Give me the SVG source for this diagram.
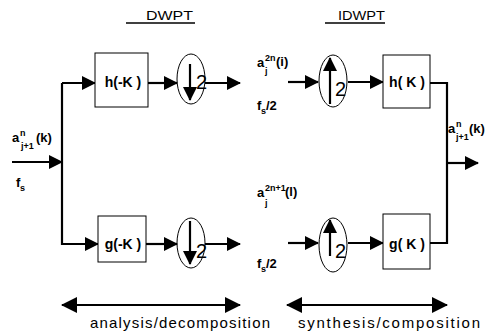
<svg xmlns="http://www.w3.org/2000/svg" width="490" height="334" viewBox="0 0 490 334">
<defs>
<style>
.w{stroke:#000;stroke-width:2.2;fill:none}
.bx{stroke:#000;stroke-width:1;fill:#fff}
.el{stroke:#000;stroke-width:1;fill:none}
text{font-family:"Liberation Sans",Arial,sans-serif;fill:#000}
.lb{font-size:14px;font-weight:bold}
.t{font-size:13px;font-weight:bold}
.s{font-size:9px;font-weight:bold}
.two{font-size:20px}
.cap{font-size:15px}
.hd{font-size:12.5px}
</style>
<marker id="ah" markerUnits="userSpaceOnUse" markerWidth="14" markerHeight="14" viewBox="0 0 14 14" refX="13" refY="7" orient="auto"><path d="M0,0 L14,7 L0,14 Z" fill="#000"/></marker>
<marker id="ah2" markerUnits="userSpaceOnUse" markerWidth="16" markerHeight="16" viewBox="0 0 16 16" refX="15" refY="8" orient="auto-start-reverse"><path d="M0,0 L16,8 L0,16 Z" fill="#000"/></marker>
</defs>
<g id="headers">
<text class="hd" x="146" y="20" textLength="47" lengthAdjust="spacingAndGlyphs">DWPT</text>
<line x1="126" y1="23" x2="195" y2="23" stroke="#000" stroke-width="1.5"/>
<text class="hd" x="338" y="20" textLength="47" lengthAdjust="spacingAndGlyphs">IDWPT</text>
<line x1="325" y1="23" x2="385" y2="23" stroke="#000" stroke-width="1.5"/>
</g>
<g id="connectors">
<line class="w" x1="12" y1="162" x2="62" y2="162" marker-end="url(#ah)"/>
<polyline class="w" points="62,245 62,83"/>
<polyline class="w" points="62,83 95,83" marker-end="url(#ah)"/>
<polyline class="w" points="62,244 98,244" marker-end="url(#ah)"/>
<line class="w" x1="148" y1="83" x2="177" y2="83" marker-end="url(#ah)"/>
<line class="w" x1="146" y1="244" x2="177" y2="244" marker-end="url(#ah)"/>
<line class="w" x1="205" y1="83" x2="240" y2="83" marker-end="url(#ah)"/>
<line class="w" x1="205" y1="244" x2="240" y2="244" marker-end="url(#ah)"/>
<line class="w" x1="288" y1="82" x2="318" y2="82" marker-end="url(#ah)"/>
<line class="w" x1="288" y1="243" x2="318" y2="243" marker-end="url(#ah)"/>
<line class="w" x1="348" y1="82" x2="383" y2="82" marker-end="url(#ah)"/>
<line class="w" x1="348" y1="243" x2="383" y2="243" marker-end="url(#ah)"/>
<polyline class="w" points="430,83 447,83 447,243 430,243"/>
<line class="w" x1="447" y1="163" x2="478" y2="163" marker-end="url(#ah)"/>
<line class="w" x1="62" y1="305" x2="240" y2="305" marker-start="url(#ah2)" marker-end="url(#ah2)"/>
<line class="w" x1="287" y1="305" x2="447" y2="305" marker-start="url(#ah2)" marker-end="url(#ah2)"/>
</g>
<g id="h-minus">
<rect class="bx" x="95" y="53" width="53" height="54"/>
<text class="lb" x="123" y="87" text-anchor="middle">h(-K )</text>
</g>
<g id="g-minus">
<rect class="bx" x="98" y="216" width="48" height="46"/>
<text class="lb" x="123" y="249" text-anchor="middle">g(-K )</text>
</g>
<g id="down-top">
<ellipse class="el" cx="191" cy="79" rx="14" ry="25"/>
<line class="w" x1="190" y1="64" x2="190" y2="100" marker-end="url(#ah)"/>
<text class="two" x="196" y="89">2</text>
</g>
<g id="down-bottom">
<ellipse class="el" cx="191" cy="243" rx="14" ry="25"/>
<line class="w" x1="190" y1="221" x2="190" y2="264" marker-end="url(#ah)"/>
<text class="two" x="196" y="258">2</text>
</g>
<g id="up-top">
<ellipse class="el" cx="333" cy="81" rx="14" ry="26"/>
<line class="w" x1="330" y1="104" x2="330" y2="58" marker-end="url(#ah)"/>
<text class="two" x="335" y="96">2</text>
</g>
<g id="up-bottom">
<ellipse class="el" cx="333" cy="245" rx="14" ry="27"/>
<line class="w" x1="330" y1="256" x2="330" y2="220" marker-end="url(#ah)"/>
<text class="two" x="335" y="258">2</text>
</g>
<g id="h-plus">
<rect class="bx" x="383" y="55" width="47" height="53"/>
<text class="lb" x="407" y="87" text-anchor="middle">h( K )</text>
</g>
<g id="g-plus">
<rect class="bx" x="383" y="214" width="47" height="55"/>
<text class="lb" x="407" y="249" text-anchor="middle">g( K )</text>
</g>
<g id="labels">
<text class="t" x="12" y="142">a</text>
<text class="s" x="20" y="136">n</text>
<text class="s" x="21" y="149">j+1</text>
<text class="t" x="36" y="142">(k)</text>
<text class="t" x="16" y="187">f</text>
<text class="s" x="20" y="191">s</text>
<text class="t" x="257" y="67">a</text>
<text class="s" x="265" y="61">2n</text>
<text class="s" x="265" y="74">j</text>
<text class="t" x="276" y="66">(i)</text>
<text class="t" x="257" y="110">f</text>
<text class="s" x="261" y="114">s</text>
<text class="t" x="266" y="110">/2</text>
<text class="t" x="257" y="197">a</text>
<text class="s" x="265" y="191">2n+1</text>
<text class="s" x="265" y="206">j</text>
<text class="t" x="285" y="196">(l)</text>
<text class="t" x="257" y="268">f</text>
<text class="s" x="261" y="272">s</text>
<text class="t" x="266" y="268">/2</text>
<text class="t" x="448" y="133">a</text>
<text class="s" x="456" y="127">n</text>
<text class="s" x="456" y="140">j+1</text>
<text class="t" x="469" y="133" font-size="12">(k)</text>
<text class="cap" x="90" y="328" textLength="180" lengthAdjust="spacing">analysis/decomposition</text>
<text class="cap" x="298" y="328" textLength="182" lengthAdjust="spacing">synthesis/composition</text>
</g>
</svg>
